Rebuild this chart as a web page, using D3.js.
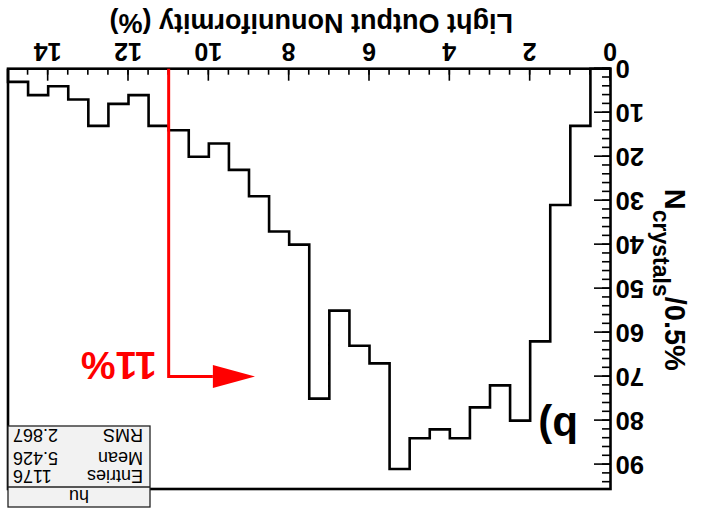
<!DOCTYPE html>
<html><head><meta charset="utf-8">
<script src="https://cdn.jsdelivr.net/npm/d3@7/dist/d3.min.js"></script>
<style>body{margin:0;background:#fff}svg{display:block}</style>
</head><body>
<script>
// ---- data ----
const xDomain = [0, 15];
const binWidth = 0.5;
const counts = [0,13,31,62,80,72,77,84,82,84,91,67,63,55,75,40,37,29,23,17,20,14,13,6,8,13,7,4,6,3];
const xTickValues = [0,2,4,6,8,10,12,14];
const yTickValues = [0,10,20,30,40,50,60,70,80,90];
const yMax = 95.55;
const statsTitle = "hu";
const statsLabels = ["Entries","Mean","RMS"];
const statsValues = ["1176","5.426","2.867"];
const cutValue = 11;
const cutHeight = 70;
const arrowTip = 8.85;
const arrowBase = 9.9;
const cutLabel = "11%";
const panelLabel = "b)";
const xTitle = "Light Output Nonuniformity (%)";

// ---- layout ----
const W = 708, H = 517;
const m = {left: 97.5, right: 8, top: 28, bottom: 68.7};
const FONT = "'Liberation Sans', Arial, Helvetica, sans-serif";

const svg = d3.select("body").append("svg").attr("width", W).attr("height", H)
  .style("background", "#fff");
const g = svg.append("g").attr("transform", `rotate(180,${W/2},${H/2})`);

const x = d3.scaleLinear().domain(xDomain).range([m.left, W - m.right]);
const y = d3.scaleLinear().domain([0, yMax]).range([H - m.bottom, m.top]);

// histogram outline
const pts = [[xDomain[0], 0]];
counts.forEach((c, i) => {
  pts.push([xDomain[0] + i * binWidth, c]);
  pts.push([xDomain[0] + (i + 1) * binWidth, c]);
});
pts.push([xDomain[1], 0]);
g.append("path")
  .attr("d", d3.line().x(d => x(d[0])).y(d => y(d[1]))(pts))
  .attr("fill", "none").attr("stroke", "#000").attr("stroke-width", 2.6)
  .attr("stroke-linejoin", "miter");

// axes (ticks inside)
const xAxisMinor = d3.axisBottom(x).tickValues(d3.range(0, 15, 0.5)).tickSize(-6).tickFormat("");
const xAxisMajor = d3.axisBottom(x).tickValues(xTickValues).tickSize(-12).tickPadding(7).tickFormat(d3.format("d"));
const yAxisMinor = d3.axisLeft(y).tickValues(d3.range(0, yMax, 2)).tickSize(-8.5).tickFormat("");
const yAxisMajor = d3.axisLeft(y).tickValues(yTickValues).tickSize(-16.5).tickPadding(5).tickFormat(d3.format("d"));

function styleAxis(sel, fs) {
  sel.select(".domain").remove();
  sel.selectAll(".tick line").attr("stroke", "#000").attr("stroke-width", 1.6);
  sel.selectAll(".tick text").attr("fill", "#000").style("font-family", FONT)
    .style("font-weight", "bold").style("font-size", fs + "px");
}
g.append("g").attr("transform", `translate(0,${H - m.bottom})`).call(xAxisMinor).call(s => styleAxis(s, 24));
g.append("g").attr("transform", `translate(0,${H - m.bottom})`).call(xAxisMajor).call(s => styleAxis(s, 25))
  .selectAll(".tick text").attr("dy", null).attr("y", 25.5).attr("dominant-baseline", "alphabetic");
g.append("g").attr("transform", `translate(${m.left},0)`).call(yAxisMinor).call(s => styleAxis(s, 25));
g.append("g").attr("transform", `translate(${m.left},0)`).call(yAxisMajor).call(s => styleAxis(s, 25.5));

// frame
g.append("rect").attr("x", m.left).attr("y", m.top)
  .attr("width", W - m.left - m.right).attr("height", H - m.top - m.bottom)
  .attr("fill", "none").attr("stroke", "#000").attr("stroke-width", 2.6);

// axis titles
g.append("text").attr("x", (m.left + W - m.right) / 2 - 2).attr("y", 503)
  .attr("text-anchor", "middle").style("font-family", FONT).style("font-weight", "bold")
  .style("font-size", "27px").text(xTitle);

const yt = g.append("text").attr("transform", `translate(43,${(m.top + H - m.bottom) / 2 - 1}) rotate(-90)`)
  .attr("text-anchor", "middle").style("font-family", FONT).style("font-weight", "bold")
  .style("font-size", "29px");
yt.append("tspan").text("N");
yt.append("tspan").attr("dy", 12).style("font-size", "23px").text("crystals");
yt.append("tspan").attr("dy", -12).text("/0.5%");

// cut line and arrow
g.append("path")
  .attr("d", d3.line()([[x(cutValue), y(0)], [x(cutValue), y(cutHeight)], [x(arrowBase), y(cutHeight)]]))
  .attr("fill", "none").attr("stroke", "#ff0000").attr("stroke-width", 3);
g.append("path")
  .attr("d", d3.line()([[x(arrowBase), y(cutHeight) - 11.5], [x(arrowTip), y(cutHeight)], [x(arrowBase), y(cutHeight) + 11.5]]) + "Z")
  .attr("fill", "#ff0000");
g.append("text").attr("x", x(cutValue) + 12).attr("y", y(cutHeight) + 25)
  .style("font-family", FONT).style("font-weight", "bold").style("font-size", "39px")
  .attr("fill", "#ff0000").text(cutLabel);

// panel label
g.append("text").attr("x", 130).attr("y", 104)
  .style("font-family", FONT).style("font-weight", "bold").style("font-size", "42px")
  .attr("fill", "#000").text(panelLabel);

// stats box
const sb = {x0: 558, x1: 700, y0: 10, y1: 91, yTitle: 30};
g.append("rect").attr("x", sb.x0).attr("y", sb.y0).attr("width", sb.x1 - sb.x0).attr("height", sb.y1 - sb.y0)
  .attr("fill", "#f2f2f2").attr("stroke", "#222").attr("stroke-width", 1.3);
g.append("line").attr("x1", sb.x0).attr("x2", sb.x1).attr("y1", sb.yTitle).attr("y2", sb.yTitle)
  .attr("stroke", "#222").attr("stroke-width", 1.3);
g.append("text").attr("x", (sb.x0 + sb.x1) / 2).attr("y", 27).attr("text-anchor", "middle")
  .style("font-family", FONT).style("font-size", "18px").text(statsTitle);
const rowY = [47, 65.5, 88];
statsLabels.forEach((l, i) => {
  g.append("text").attr("x", 565).attr("y", rowY[i]).style("font-family", FONT).style("font-size", "18px").text(l);
  g.append("text").attr("x", 695).attr("y", rowY[i]).attr("text-anchor", "end")
    .style("font-family", FONT).style("font-size", "18px").text(statsValues[i]);
});
</script>
</body></html>
